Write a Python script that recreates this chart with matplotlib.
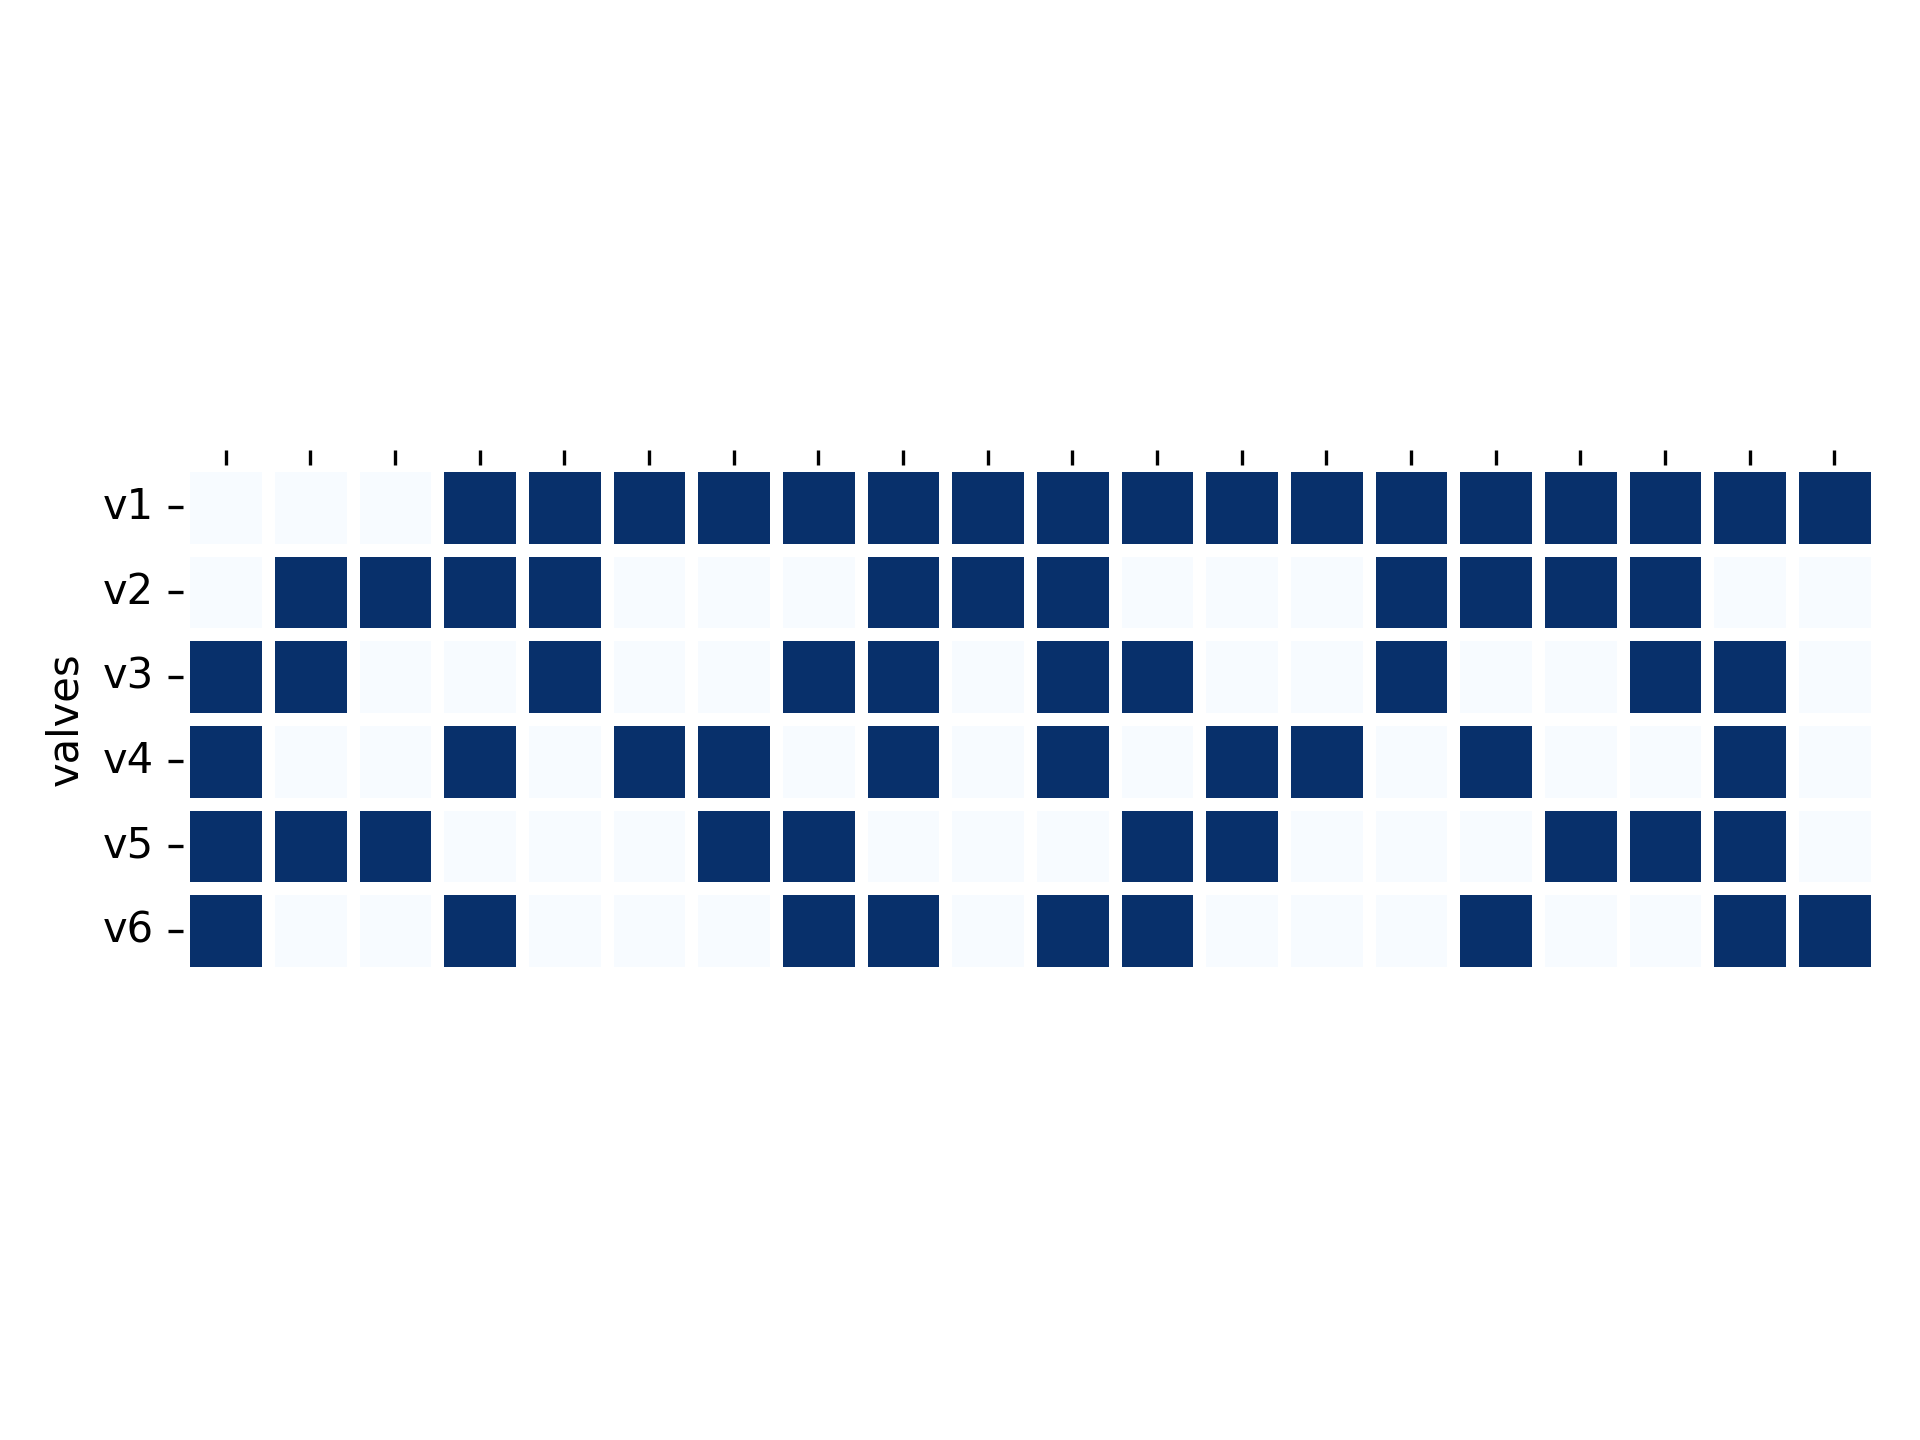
import matplotlib
matplotlib.use("Agg")
import matplotlib.pyplot as plt
import seaborn as sns
import numpy as np

rows = ["v1", "v2", "v3", "v4", "v5", "v6"]
v1 = [0,0,0,1,1,1,1,1,1,1,1,1,1,1,1,1,1,1,1,1]
v2 = [0,1,1,1,1,0,0,0,1,1,1,0,0,0,1,1,1,1,0,0]
v3 = [1,1,0,0,1,0,0,1,1,0,1,1,0,0,1,0,0,1,1,0]
v4 = [1,0,0,1,0,1,1,0,1,0,1,0,1,1,0,1,0,0,1,0]
v5 = [1,1,1,0,0,0,1,1,0,0,0,1,1,0,0,0,1,1,1,0]
v6 = [1,0,0,1,0,0,0,1,1,0,1,1,0,0,0,1,0,0,1,1]
data = np.array([v1, v2, v3, v4, v5, v6])

fig = plt.figure(figsize=(6.4, 4.8), dpi=300)
ax = fig.add_axes([183/1920, 1-973/1440, 1694/1920, 508/1440])
sns.heatmap(data, ax=ax, cmap="Blues", cbar=False, linewidths=3, linecolor="white",
            square=True, yticklabels=rows, xticklabels=[""] * data.shape[1])
ax.xaxis.tick_top()
ax.set_ylabel("valves")
plt.setp(ax.get_yticklabels(), rotation=0)
fig.savefig("out.png", dpi=300)
